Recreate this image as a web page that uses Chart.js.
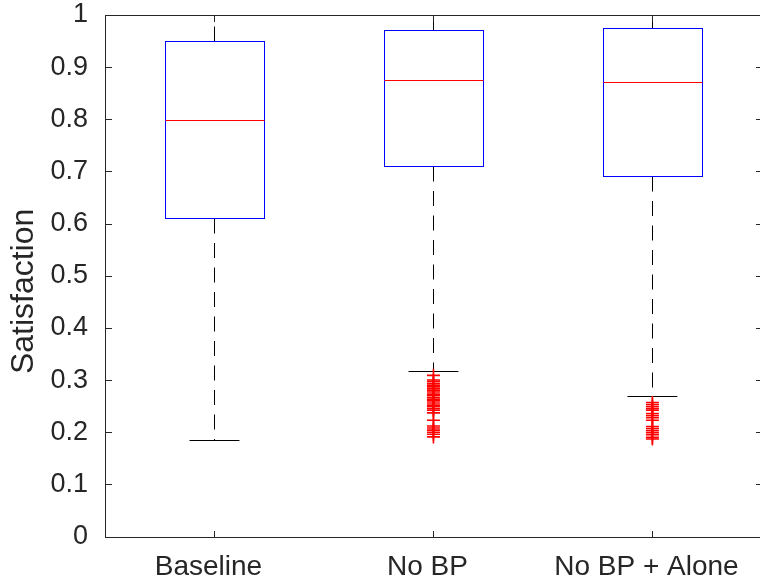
<!DOCTYPE html>
<html>
<head>
<meta charset="utf-8">
<script src="https://cdn.jsdelivr.net/npm/chart.js@4.4.0/dist/chart.umd.min.js"></script>
<style>
  html, body { margin: 0; padding: 0; background: #fff; overflow: hidden; }
  #wrap { width: 770px; height: 581px; }
</style>
</head>
<body>
<div id="wrap"><canvas id="boxChart" width="770" height="581"></canvas></div>
<script>
// Box statistics per group
const groups = ['Baseline', 'No BP', 'No BP + Alone'];
const whiskerHigh = [1.0, 1.0, 1.0];
const q3 = [0.950, 0.971, 0.975];
const medians = [0.799, 0.875, 0.871];
const q1 = [0.611, 0.711, 0.691];
const whiskerLow = [0.186, 0.317, 0.269];

// Outliers below the lower whisker
const outliersNoBP = [0.309, 0.300, 0.297, 0.293, 0.290, 0.287, 0.283, 0.280, 0.277, 0.273,
  0.270, 0.266, 0.263, 0.260, 0.256, 0.252, 0.249, 0.245, 0.242, 0.237, 0.223, 0.212,
  0.208, 0.204, 0.200, 0.196, 0.191];
const outliersAlone = [0.257, 0.253, 0.249, 0.245, 0.242, 0.236, 0.232, 0.228, 0.223,
  0.211, 0.207, 0.203, 0.199, 0.195, 0.190, 0.187];

const yTicks = [0, 0.1, 0.2, 0.3, 0.4, 0.5, 0.6, 0.7, 0.8, 0.9, 1];
const yTitle = 'Satisfaction';

const AXIS = '#262626';
const FONT = '"Liberation Sans", Arial, Helvetica, sans-serif';
const BOX_HALF = 0.227;
const CAP_HALF = 0.114;
const TICK_LEN = 6.5;

const outlierPoints = [
  ...outliersNoBP.map((v) => ({ x: 2, y: v })),
  ...outliersAlone.map((v) => ({ x: 3, y: v })),
];

// draws whiskers, boxes and medians under the outlier markers
const boxPlugin = {
  id: 'boxes',
  beforeDatasetsDraw(chart) {
    const { ctx, scales: { x, y } } = chart;
    ctx.save();
    groups.forEach((g, i) => {
      const c = i + 1;
      const xc = Math.round(x.getPixelForValue(c)) + 0.5;
      const bl = Math.round(x.getPixelForValue(c - BOX_HALF)) + 0.5;
      const br = Math.round(x.getPixelForValue(c + BOX_HALF)) + 0.5;
      const cl = x.getPixelForValue(c - CAP_HALF);
      const cr = x.getPixelForValue(c + CAP_HALF);
      const py = (v) => Math.round(y.getPixelForValue(v)) + 0.5;

      // dashed whiskers
      ctx.strokeStyle = '#000';
      ctx.lineWidth = 1;
      ctx.setLineDash([15, 9.5]);
      ctx.beginPath();
      ctx.moveTo(xc, py(q3[i]));
      ctx.lineTo(xc, py(whiskerHigh[i]));
      ctx.moveTo(xc, py(q1[i]));
      ctx.lineTo(xc, py(whiskerLow[i]));
      ctx.stroke();
      ctx.setLineDash([]);

      // caps
      ctx.beginPath();
      ctx.moveTo(cl, py(whiskerHigh[i]));
      ctx.lineTo(cr, py(whiskerHigh[i]));
      ctx.moveTo(cl, py(whiskerLow[i]));
      ctx.lineTo(cr, py(whiskerLow[i]));
      ctx.stroke();

      // box
      ctx.strokeStyle = '#0000ff';
      ctx.strokeRect(bl, py(q3[i]), br - bl, py(q1[i]) - py(q3[i]));

      // median
      ctx.strokeStyle = '#ff0000';
      ctx.beginPath();
      ctx.moveTo(bl, py(medians[i]));
      ctx.lineTo(br, py(medians[i]));
      ctx.stroke();
    });
    ctx.restore();
  },
  afterDatasetsDraw(chart) {
    // axes box with inward ticks on every side
    const { ctx, chartArea: a, scales: { x, y } } = chart;
    ctx.save();
    ctx.strokeStyle = AXIS;
    ctx.lineWidth = 1;
    const L = Math.round(a.left) + 0.5, R = Math.round(a.right) + 0.5;
    const T = Math.round(a.top) + 0.5, B = Math.round(a.bottom) + 0.5;
    ctx.strokeRect(L, T, R - L, B - T);
    ctx.beginPath();
    yTicks.forEach((v) => {
      const p = Math.round(y.getPixelForValue(v)) + 0.5;
      ctx.moveTo(L, p); ctx.lineTo(L + TICK_LEN, p);
      ctx.moveTo(R, p); ctx.lineTo(R - TICK_LEN, p);
    });
    groups.forEach((g, i) => {
      const p = Math.round(x.getPixelForValue(i + 1)) + 0.5;
      ctx.moveTo(p, B); ctx.lineTo(p, B - TICK_LEN);
      ctx.moveTo(p, T); ctx.lineTo(p, T + TICK_LEN);
    });
    ctx.stroke();

    // y axis title, set a little below the axis middle
    ctx.fillStyle = AXIS;
    ctx.font = '32px ' + FONT;
    ctx.textAlign = 'center';
    ctx.textBaseline = 'middle';
    ctx.translate(24, y.getPixelForValue(0.47));
    ctx.rotate(-Math.PI / 2);
    ctx.fillText(yTitle, 0, 0);
    ctx.restore();
  },
};

new Chart(document.getElementById('boxChart'), {
  type: 'scatter',
  data: {
    datasets: [{
      data: outlierPoints,
      pointStyle: 'cross',
      pointRadius: 6.5,
      pointBorderColor: '#ff0000',
      pointBorderWidth: 1.6,
      pointBackgroundColor: '#ff0000',
    }],
  },
  options: {
    responsive: false,
    animation: false,
    layout: { padding: { top: 15, right: 5, left: 0, bottom: 0 } },
    plugins: { legend: { display: false }, tooltip: { enabled: false } },
    scales: {
      x: {
        type: 'linear',
        min: 0.5,
        max: 3.5,
        afterBuildTicks: (s) => { s.ticks = groups.map((g, i) => ({ value: i + 1 })); },
        afterFit: (s) => { s.height = 44.5; s.paddingLeft = 0; s.paddingRight = 0; },
        grid: { display: false, drawTicks: false },
        border: { display: false },
        ticks: {
          color: AXIS,
          font: { family: FONT, size: 28 },
          padding: 14,
          labelOffset: -6,
          maxRotation: 0,
          autoSkip: false,
          callback: (v) => groups[v - 1],
        },
      },
      y: {
        min: 0,
        max: 1,
        afterBuildTicks: (s) => { s.ticks = yTicks.map((v) => ({ value: v })); },
        afterFit: (s) => { s.width = 105; s.paddingTop = 0; s.paddingBottom = 0; },
        grid: { display: false, drawTicks: false },
        border: { display: false },
        ticks: {
          color: AXIS,
          font: { family: FONT, size: 27 },
          padding: 17,
          callback: (v) => (v === 0 || v === 1 ? String(v) : v.toFixed(1)),
        },
      },
    },
  },
  plugins: [boxPlugin],
});
</script>
</body>
</html>
